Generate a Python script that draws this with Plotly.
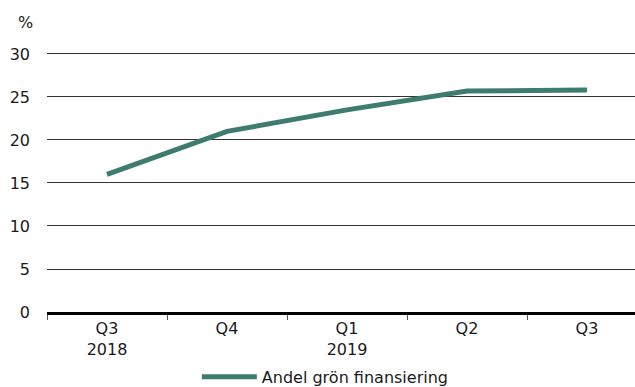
import plotly.graph_objects as go

# Quarterly share of green financing, %
quarters = ["Q3<br>2018", "Q4", "Q1<br>2019", "Q2", "Q3"]
green_share = [16.0, 21.0, 23.5, 25.7, 25.8]
series_name = "Andel grön finansiering"

y_ticks = [0, 5, 10, 15, 20, 25, 30]

font_family = "DejaVu Sans"
text_color = "#1a1a1a"

fig = go.Figure()
fig.add_trace(
    go.Scatter(
        x=quarters,
        y=green_share,
        mode="lines",
        name=series_name,
        line=dict(color="#3f7c70", width=5),
    )
)

fig.update_layout(
    width=635,
    height=387,
    margin=dict(l=47, r=0, t=52, b=75),
    paper_bgcolor="white",
    plot_bgcolor="white",
    font=dict(family=font_family, size=16, color=text_color),
    showlegend=True,
    legend=dict(
        orientation="h",
        xref="container",
        yref="container",
        x=0.31,
        y=0.07,
        xanchor="left",
        yanchor="top",
        itemwidth=55,
        font=dict(size=16, color=text_color),
        bgcolor="rgba(0,0,0,0)",
    ),
    annotations=[
        dict(
            text="%",
            xref="paper",
            yref="paper",
            x=-0.0374,
            y=1.115,
            xanchor="center",
            yanchor="middle",
            showarrow=False,
            font=dict(size=16, color=text_color),
        )
    ],
)

fig.update_xaxes(
    type="category",
    range=[-0.5, 4.4],
    showgrid=False,
    showline=True,
    linecolor="black",
    linewidth=3,
    tickson="boundaries",
    ticks="outside",
    ticklen=5,
    tickcolor="#555555",
    tickwidth=1,
    zeroline=False,
)

fig.update_yaxes(
    range=[0, 30.23],
    tickvals=y_ticks,
    showgrid=True,
    gridcolor="#333333",
    gridwidth=1,
    zeroline=False,
    showline=False,
    ticks="",
    ticklabelstandoff=16,
)

fig.write_html("out.html")
